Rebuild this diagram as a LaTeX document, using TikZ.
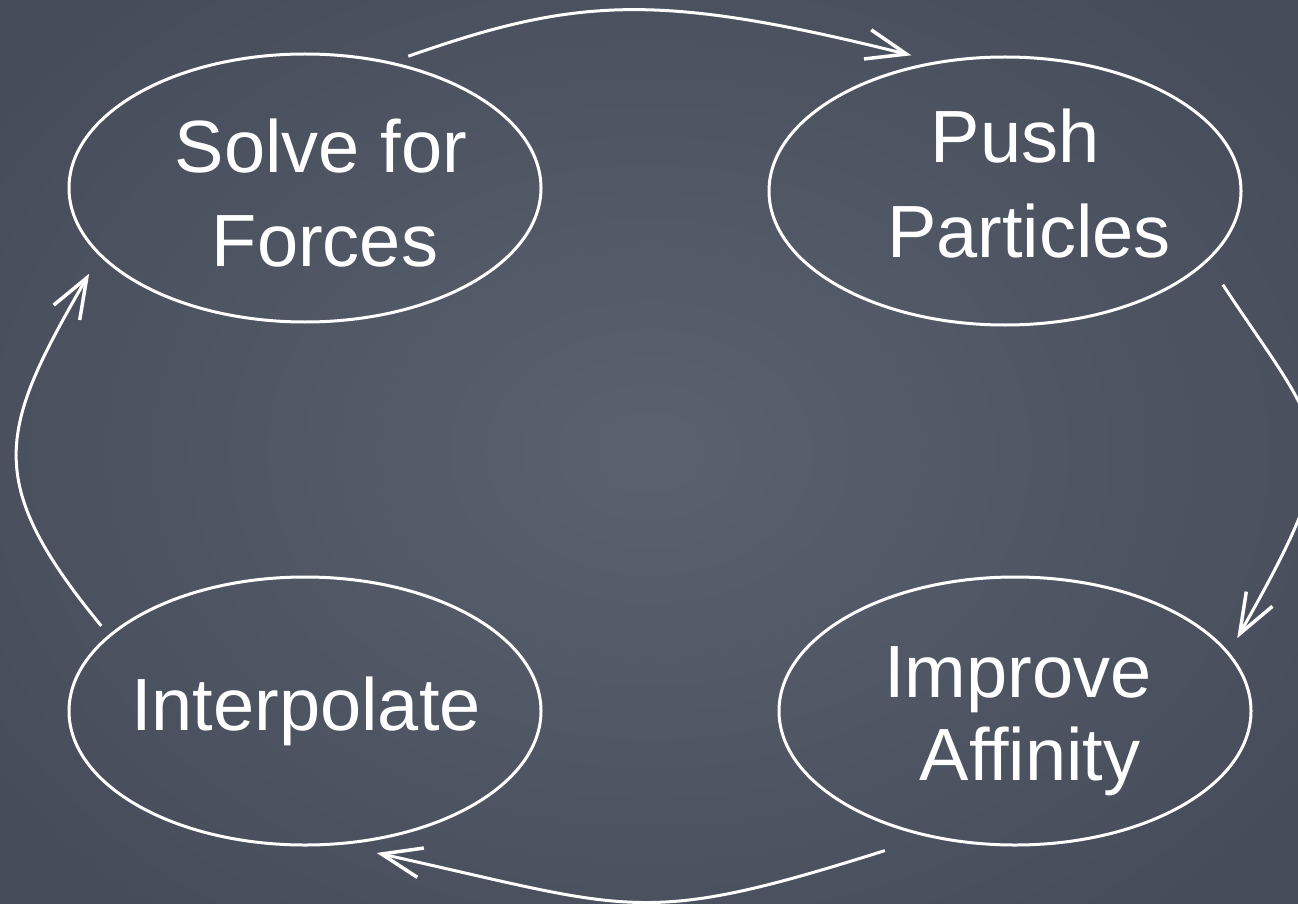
\documentclass[tikz,border=0pt]{standalone}
\usepackage{fontspec}
\setmainfont{Liberation Sans}
\usetikzlibrary{arrows.meta,shapes.geometric}
\definecolor{boardmid}{RGB}{90,97,111}
\definecolor{boardedge}{RGB}{70,76,89}
\tikzset{
  stage/.style={ellipse, draw=white, line width=3pt, inner sep=0pt, outer sep=0pt,
                minimum width=472pt, minimum height=268pt},
  lbl/.style={text=white, anchor=base, inner sep=0pt, font=\fontsize{74}{88}\selectfont},
  cyc/.style={draw=white, line width=3pt,
              -{Straight Barb[length=40pt,width=30pt,line width=3.5pt]}}
}
\begin{document}
\begin{tikzpicture}[x=1pt,y=-1pt]
\useasboundingbox (0,0) rectangle (1298,904);
\clip (0,0) rectangle (1298,904);
\shade[inner color=boardmid, outer color=boardedge] (-150,-150) rectangle (1448,1054);

\node[stage] (solve)  at (305,188)   {};
\node[stage] (push)   at (1005,191)  {};
\node[stage] (interp) at (305,711)   {};
\node[stage] (improve) at (1015,711) {};

\node[lbl] (solveA) at (321,173) {Solve for};
\node[lbl] (solveB) at (325,266) {Forces};
\node[lbl] (pushA) at (1015,163) {Push};
\node[lbl] (pushB) at (1029,257) {Particles};
\node[lbl] (interpA) at (306,730) {Interpolate};
\node[lbl] (improveA) at (1018,697) {Improve};
\node[lbl] (improveB) at (1030,780) {Affinity};

\draw[cyc, shorten <=20pt, shorten >=29pt]
  (solve.56) .. controls +(188,-66) and +(-281,-70) .. (push.117);
\draw[cyc, shorten <=29pt, shorten >=18pt]
  (push.-19) .. controls +(121,183) and +(123,-218) .. (improve.15);
\draw[cyc, shorten <=48pt, shorten >=42pt]
  (improve.-124) .. controls +(-291,92) and +(298,66) .. (interp.-77);
\draw[cyc, shorten <=13pt, shorten >=22pt]
  (interp.159) .. controls +(-128,-156) and +(-101,175) .. (solve.-162);
\end{tikzpicture}
\end{document}
